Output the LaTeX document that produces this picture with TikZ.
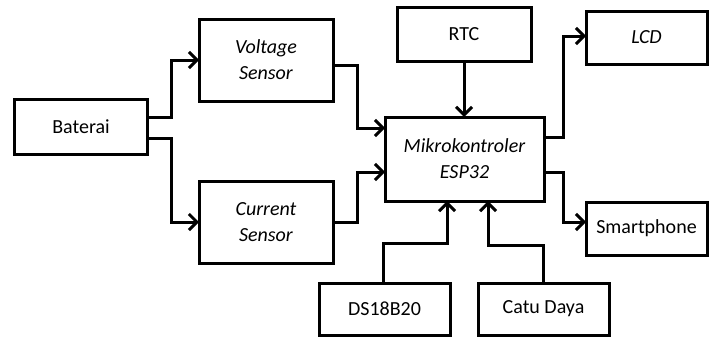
\documentclass[tikz,border=0pt]{standalone}
\usepackage{fontspec}
\setmainfont{Carlito}
\usetikzlibrary{arrows.meta,calc,positioning}

\begin{document}
\begin{tikzpicture}[x=0.5pt, y=-0.5pt, >={Straight Barb[length=4pt,width=8pt]},
  blok/.style={draw=black, line width=1.5pt, inner sep=0pt, outer sep=0pt,
    align=center, font=\fontsize{10}{13}\selectfont},
  arr/.style={->, line width=1.5pt}]
  \useasboundingbox (0,0) rectangle (710,337);

  % Input side
  \node[blok, minimum width=66.5pt, minimum height=27.5pt] (bat) at (81,126.5) {Baterai};
  \node[blok, minimum width=67pt, minimum height=41pt] (volt) at (266,60) {\textit{Voltage}\\\textit{Sensor}};
  \node[blok, minimum width=67pt, minimum height=41pt] (curr) at (266,222) {\textit{Current}\\\textit{Sensor}};

  % Controller and peripherals
  \node[blok, minimum width=79.5pt, minimum height=42pt] (mikro) at (464.5,159) {\textit{Mikrokontroler}\\\textit{ESP32}};
  \node[blok, minimum width=67pt, minimum height=27pt] (rtc) at (464,34) {RTC};
  \node[blok, minimum width=60.5pt, minimum height=26.5pt] (lcd) at (646.5,37.5) {\textit{LCD}};
  \node[blok, minimum width=60.5pt, minimum height=26.5pt] (smart) at (646.5,228.5) {Smartphone};
  \node[blok, minimum width=65.5pt, minimum height=26pt] (ds) at (384.5,309) {DS18B20};
  \node[blok, minimum width=65.5pt, minimum height=26pt] (catu) at (543.5,309) {Catu Daya};

  % Battery to sensors
  \draw[arr] ([yshift=4.75pt]bat.east) -- ++(12pt,0) |- (volt.west);
  \draw[arr] ([yshift=-5.75pt]bat.east) -- ++(12pt,0) |- (curr.west);

  % Sensors to controller
  \draw[arr] ([yshift=-2.5pt]volt.east) -- ++(12pt,0) |- ([yshift=15.5pt]mikro.west);
  \draw[arr] (curr.east) -- ++(12pt,0) |- ([yshift=-6.5pt]mikro.west);
  \draw[arr] (rtc.south) -- (rtc.south |- mikro.north);

  % Controller to outputs
  \draw[arr] ([yshift=11pt]mikro.east) -- ++(9.5pt,0) |- ([yshift=0.75pt]lcd.west);
  \draw[arr] ([yshift=-6.5pt]mikro.east) -- ++(9.5pt,0) |- ([yshift=3.25pt]smart.west);

  % Bottom inputs
  \draw[arr] ([xshift=-0.75pt]ds.north) -- ++(0,20pt) -| ([xshift=-8.75pt]mikro.south);
  \draw[arr] (catu.north) -- ++(0,19pt) -| ([xshift=11.75pt]mikro.south);
\end{tikzpicture}
\end{document}
